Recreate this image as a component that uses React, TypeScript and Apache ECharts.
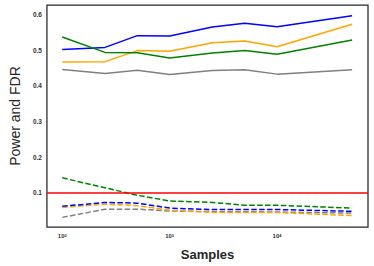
import React, { useEffect, useRef } from "react";
import * as echarts from "echarts";

const samples = [100, 250, 500, 1000, 2500, 5000, 10000, 50000];

const powerBlue = [0.502, 0.508, 0.541, 0.540, 0.565, 0.576, 0.566, 0.597];
const powerOrange = [0.467, 0.468, 0.499, 0.497, 0.521, 0.526, 0.510, 0.573];
const powerGreen = [0.537, 0.494, 0.493, 0.478, 0.492, 0.499, 0.489, 0.529];
const powerGray = [0.446, 0.435, 0.444, 0.432, 0.443, 0.445, 0.433, 0.445];

const fdrBlue = [0.062, 0.073, 0.071, 0.057, 0.053, 0.053, 0.053, 0.048];
const fdrOrange = [0.059, 0.068, 0.064, 0.051, 0.045, 0.045, 0.045, 0.036];
const fdrGreen = [0.142, 0.114, 0.093, 0.077, 0.073, 0.065, 0.065, 0.057];
const fdrGray = [0.031, 0.054, 0.054, 0.049, 0.047, 0.047, 0.046, 0.043];

const fdrTarget = 0.1;

const FONT = "Liberation Sans, Arial, sans-serif";

function pairs(vals: number[]) {
  return samples.map((s, i) => [s, vals[i]]);
}

export default function App() {
  const ref = useRef<HTMLDivElement>(null);
  useEffect(() => {
    if (!ref.current) return;
    const chart = echarts.init(ref.current, undefined, { renderer: "svg" });
    const solid = (name: string, color: string, vals: number[]) => ({
      name,
      type: "line",
      data: pairs(vals),
      showSymbol: false,
      symbol: "none",
      lineStyle: { color, width: 1.5 },
      z: 3,
    });
    const dashed = (name: string, color: string, vals: number[]) => ({
      name,
      type: "line",
      data: pairs(vals),
      showSymbol: false,
      symbol: "none",
      lineStyle: { color, width: 1.5, type: [5.5, 2.4] },
      z: 3,
    });
    chart.setOption({
      animation: false,
      backgroundColor: "#ffffff",
      grid: {
        left: 36,
        right: 6,
        top: 5,
        bottom: 34,
        show: true,
        borderColor: "#262626",
        borderWidth: 1.25,
        backgroundColor: "transparent",
      },
      xAxis: {
        type: "log",
        logBase: 10,
        min: 72,
        max: 70300,
        name: "Samples",
        nameLocation: "middle",
        nameGap: 21,
        nameTextStyle: { fontFamily: FONT, fontSize: 13, fontWeight: "bold", color: "#262626" },
        axisLine: { show: false },
        axisTick: { show: false },
        splitLine: { show: false },
        axisLabel: {
          showMinLabel: false,
          showMaxLabel: false,
          margin: 6,
          fontFamily: FONT,
          fontSize: 6,
          fontWeight: "bold",
          color: "#333333",
          formatter: (v: number) => {
            const e = Math.log10(v);
            if (Math.abs(e - Math.round(e)) > 1e-6) return "";
            return "10{s|" + Math.round(e) + "}";
          },
          rich: {
            s: { fontSize: 4, verticalAlign: "top", lineHeight: 6, fontFamily: FONT, fontWeight: "bold", color: "#333333" },
          },
        },
      },
      yAxis: {
        type: "value",
        min: 0.004,
        max: 0.627,
        splitNumber: 6,
        name: "Power and FDR",
        nameLocation: "middle",
        nameGap: 19,
        nameTextStyle: { fontFamily: FONT, fontSize: 14, color: "#262626" },
        axisLine: { show: false },
        axisTick: { show: false },
        splitLine: { show: false },
        axisLabel: {
          showMinLabel: false,
          showMaxLabel: false,
          margin: 5,
          fontFamily: FONT,
          fontSize: 6.5,
          fontWeight: "bold",
          color: "#333333",
          formatter: (v: number) => {
            const r = Math.round(v * 10) / 10;
            if (Math.abs(v - r) > 1e-6) return "";
            return r.toFixed(1);
          },
        },
      },
      series: [
        solid("blue power", "#0000ff", powerBlue),
        solid("orange power", "#ffa500", powerOrange),
        solid("green power", "#008000", powerGreen),
        solid("gray power", "#808080", powerGray),
        dashed("gray fdr", "#808080", fdrGray),
        dashed("orange fdr", "#ffa500", fdrOrange),
        dashed("blue fdr", "#0000ff", fdrBlue),
        dashed("green fdr", "#008000", fdrGreen),
        {
          name: "target",
          type: "line",
          data: [],
          markLine: {
            silent: true,
            symbol: "none",
            label: { show: false },
            lineStyle: { color: "#ff0000", width: 1.5, type: "solid" },
            data: [{ yAxis: fdrTarget }],
          },
        },
      ],
    });
    return () => chart.dispose();
  }, []);
  return (
    <div
      ref={ref}
      style={{ position: "fixed", left: 0, top: 0, width: 374, height: 266, background: "#fff" }}
    />
  );
}
